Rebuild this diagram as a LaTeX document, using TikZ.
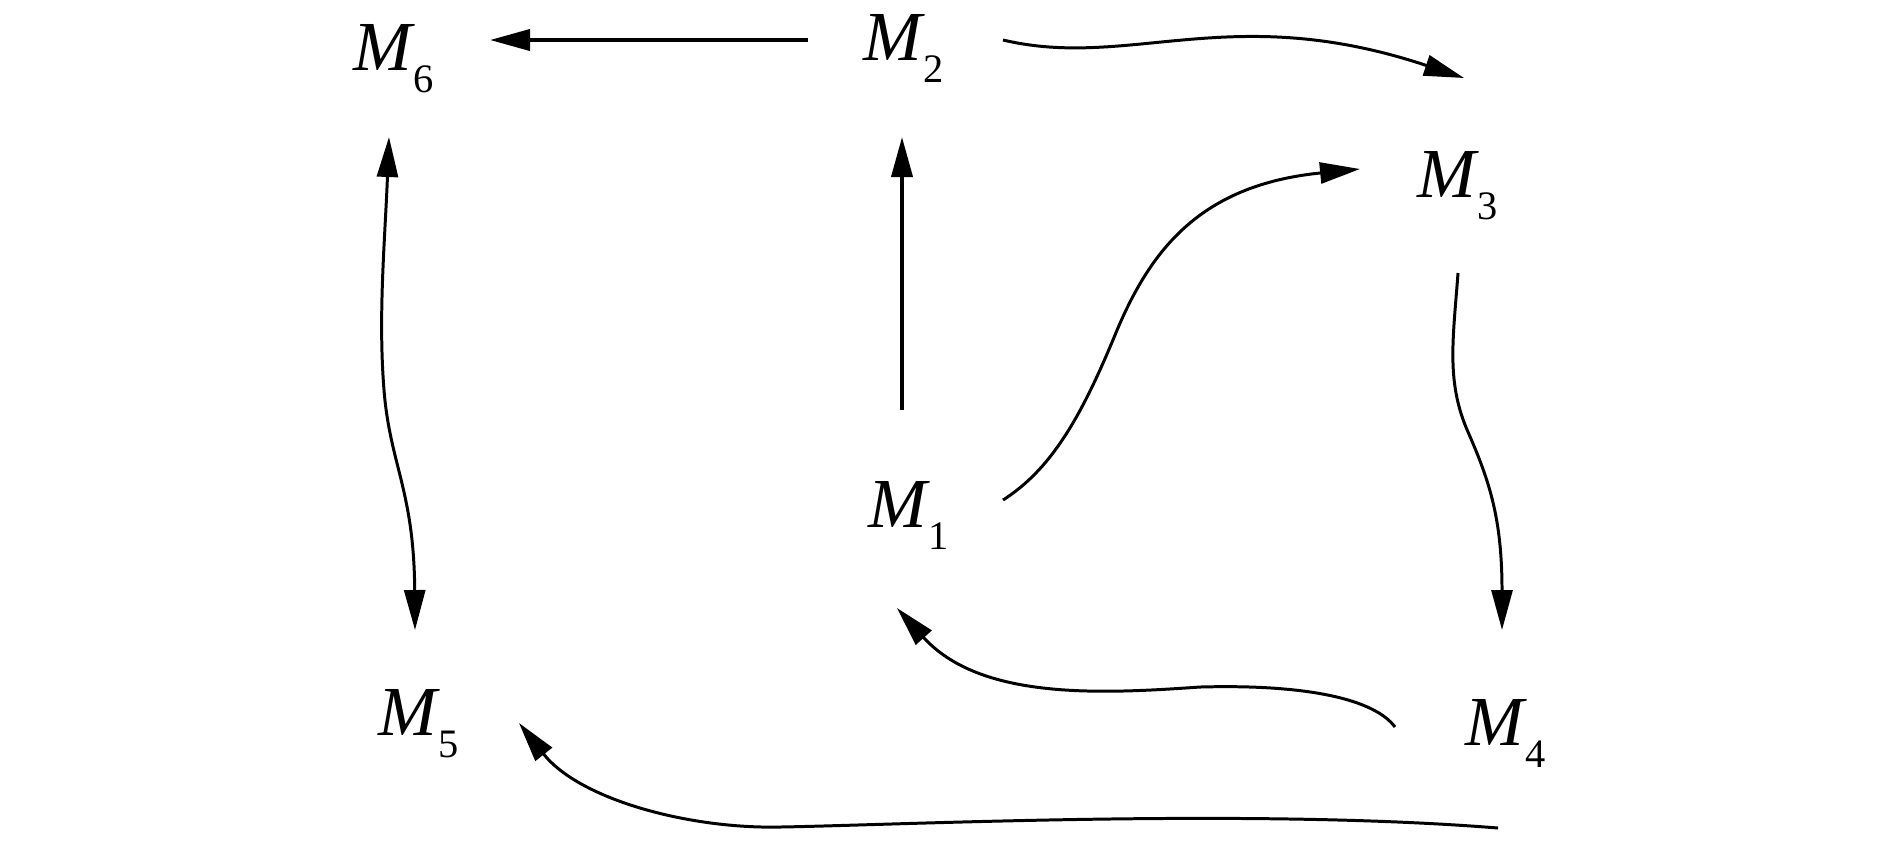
\documentclass[tikz,border=0pt]{standalone}
\usepackage{fontspec}
\setmainfont{Liberation Serif}
\usetikzlibrary{arrows.meta}
\newcommand\mlab[1]{\textit{M}\kern-0.2mm\raisebox{-2.25mm}{\fontsize{11.5}{12}\selectfont #1}}
\begin{document}
\begin{tikzpicture}[x=0.1mm,y=-0.1mm,
  lbl/.style={anchor=base west,inner sep=0pt,font=\fontsize{20}{24}\selectfont},
  headend/.style={-{Triangle[length=4mm,width=2.1mm]}},
  headboth/.style={{Triangle[length=4mm,width=2.1mm]}-{Triangle[length=4mm,width=2.1mm]}},
  straightline/.style={line width=1.1pt},
  curvyline/.style={line width=0.85pt}]
\useasboundingbox (0,0) rectangle (1890,850);

% nodes
\node[lbl] (M6) at (353,70)  {\mlab{6}};
\node[lbl] (M2) at (863,60)  {\mlab{2}};
\node[lbl] (M3) at (1417,197) {\mlab{3}};
\node[lbl] (M1) at (868,527) {\mlab{1}};
\node[lbl] (M4) at (1465,745) {\mlab{4}};
\node[lbl] (M5) at (378,735) {\mlab{5}};

% connector end points
\coordinate (s26) at (808,40);   \coordinate (e26) at (490,40);
\coordinate (s12) at (902,410);  \coordinate (e12) at (902,137);
\coordinate (s65) at (389,137);  \coordinate (e65) at (415,630);
\coordinate (s23) at (1003,40);  \coordinate (e23) at (1464,78);
\coordinate (s13) at (1003,500); \coordinate (e13) at (1360,169);
\coordinate (s34) at (1458,273); \coordinate (e34) at (1502,630);
\coordinate (s41) at (1395,727); \coordinate (e41) at (897,608);
\coordinate (s45) at (1498,828); \coordinate (e45) at (519,723);

% M2 -> M6
\draw[straightline,headend] (s26) -- (e26);
% M1 -> M2
\draw[straightline,headend] (s12) -- (e12);
% M6 <-> M5
\draw[curvyline,headboth] (s65) .. controls (385,240) and (378,315) .. (384,390)
  .. controls (390,465) and (414,490) .. (e65);
% M2 -> M3
\draw[curvyline,headend] (s23) .. controls (1130,70) and (1230,0) .. (e23);
% M1 -> M3
\draw[curvyline,headend] (s13) .. controls (1050,470) and (1080,420) .. (1115,335)
  .. controls (1150,250) and (1200,185) .. (e13);
% M3 -> M4
\draw[curvyline,headend] (s34) .. controls (1453,340) and (1446,382) .. (1468,432)
  .. controls (1490,482) and (1502,520) .. (e34);
% M4 -> M1
\draw[curvyline,headend] (s41) .. controls (1375,700) and (1310,684) .. (1200,687)
  .. controls (1100,694) and (980,700) .. (e41);
% M4 -> M5
\draw[curvyline,headend] (s45) .. controls (1250,808) and (900,825) .. (780,827)
  .. controls (690,829) and (580,800) .. (e45);
\end{tikzpicture}
\end{document}
